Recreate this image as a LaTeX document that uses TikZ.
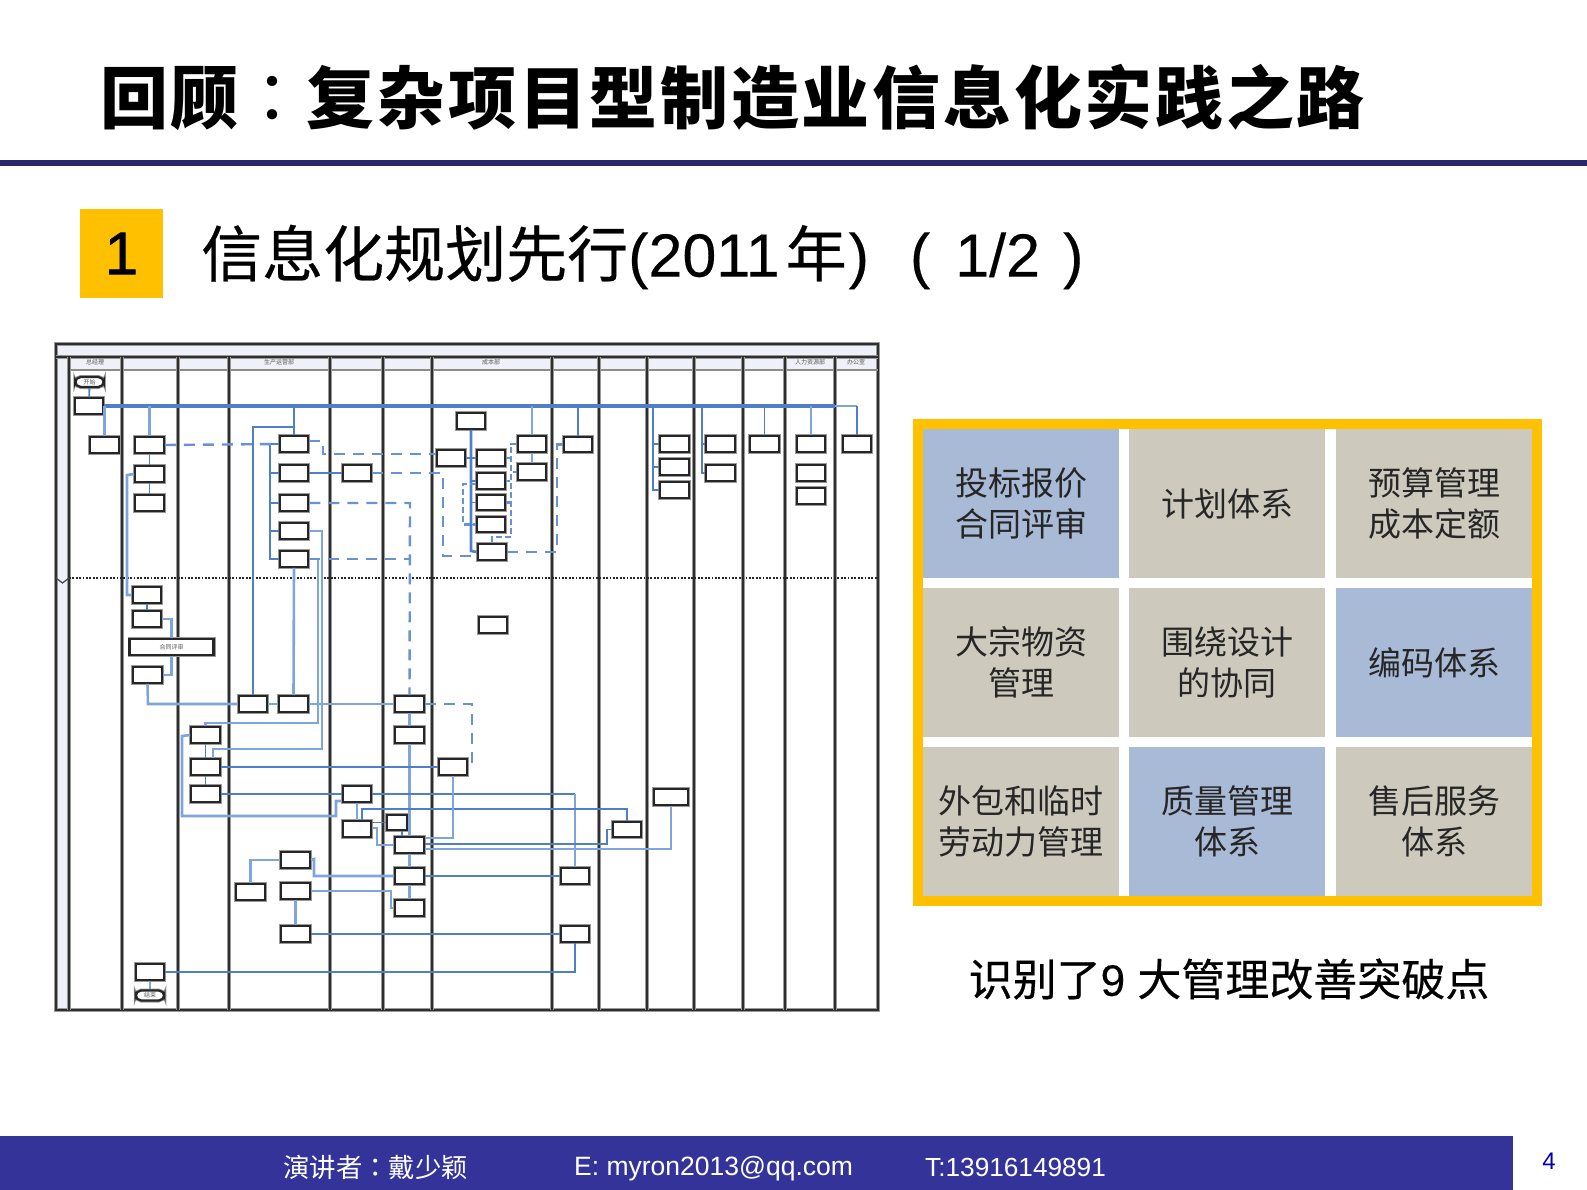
\documentclass[tikz,border=0pt]{standalone}
\usepackage{fontspec}
\setmainfont{Liberation Sans}
\newfontfamily\cjk{Noto Sans CJK SC}
\newfontfamily\cjktc{Noto Sans CJK TC}
\newfontfamily\cjkheavy[FakeBold=0.4]{Noto Sans CJK SC}
\newfontfamily\digitfont[FakeBold=1.2]{Liberation Sans}
\definecolor{navyrule}{HTML}{28286E}
\definecolor{footblue}{HTML}{333399}
\definecolor{gold}{HTML}{FFC000}
\definecolor{cellblue}{HTML}{A9BAD6}
\definecolor{cellgray}{HTML}{CDCABD}
\definecolor{bandgray}{HTML}{EEF1F7}
\definecolor{flowdark}{HTML}{4F7FCB}
\definecolor{flowlight}{HTML}{7FA5DD}
\definecolor{lanedark}{HTML}{2E2E2E}
\tikzset{
  flowbox/.style={draw=black!85, line width=2.2pt, fill=white, minimum width=28.5pt, minimum height=15.5pt, inner sep=0pt, preaction={draw=black!40, line width=4pt}},
  wideflow/.style={flowbox, minimum width=84pt},
  endbox/.style={flowbox, rounded corners=5.5pt, minimum height=10pt},
  lanehead/.style={inner sep=0pt, text=black!65, font=\cjk\fontsize{6}{6}\selectfont},
  mainline/.style={flowdark, line width=3.2pt},
  tailline/.style={flowlight, line width=2.4pt},
  subline/.style={flowlight, line width=2.6pt},
  thinline/.style={flowdark, line width=1.9pt},
  dashline/.style={flowdark!85!white, line width=2.4pt, dash pattern=on 11pt off 8pt},
  lanerule/.style={lanedark, line width=2.2pt, preaction={draw=black!40, line width=3.8pt}},
  gridcell/.style={minimum width=196pt, minimum height=149pt, inner sep=0pt, align=center, text=black!85, font=\cjk\fontsize{33}{40.5}\selectfont},
}
\begin{document}
\begin{tikzpicture}[x=1pt, y=-1pt]
\useasboundingbox (0,0) rectangle (1587,1190);

\node[anchor=west, inner sep=0pt, font=\cjk\bfseries\fontsize{68}{68}\selectfont] (title) at (100,97) {\addfontfeatures{LetterSpace=4}回顾{\cjktc\mdseries ：}复杂项目型制造业信息化实践之路};
\fill[navyrule] (0,160) rectangle (1587,166.5);

\node[fill=gold, minimum width=83pt, minimum height=88pt, inner sep=0pt, font=\digitfont\fontsize{60}{60}\selectfont] (numbox) at (121.5,253.5) {1};
\node[anchor=west, inner sep=0pt, font=\cjkheavy\fontsize{61}{61}\selectfont] (subtitle) at (201,257) {信息化规划先行{\digitfont\addfontfeatures{FakeBold=0.3}\fontsize{61}{61}\selectfont (2011}\hspace{6pt}年\hspace{2pt}{\digitfont\addfontfeatures{FakeBold=0.3}\fontsize{61}{61}\selectfont )\hspace{41pt}(\hspace{25pt}1/2\hspace{23pt})}};

\fill[bandgray] (56,344) rectangle (878,370);
\fill[bandgray] (56,370) rectangle (69,1010);
\draw[lanerule] (56,344) rectangle (878,1010);
\draw[lanerule] (56,357) -- (878,357);
\draw[black!45, line width=1.6pt] (69,370) -- (878,370);
\draw[lanerule] (69,357) -- (69,1010);
\draw[lanerule] (122,357) -- (122,1010);
\draw[lanerule] (178,357) -- (178,1010);
\draw[lanerule] (229,357) -- (229,1010);
\draw[lanerule] (330,357) -- (330,1010);
\draw[lanerule] (383,357) -- (383,1010);
\draw[lanerule] (432,357) -- (432,1010);
\draw[lanerule] (552,357) -- (552,1010);
\draw[lanerule] (599,357) -- (599,1010);
\draw[lanerule] (647,357) -- (647,1010);
\draw[lanerule] (694,357) -- (694,1010);
\draw[lanerule] (743,357) -- (743,1010);
\draw[lanerule] (785,357) -- (785,1010);
\draw[lanerule] (835,357) -- (835,1010);
\draw[black!85, line width=1.3pt, dash pattern=on 1.8pt off 1.6pt] (69,578) -- (878,578);
\draw[black!70, line width=1.3pt] (56,578) -- (62.5,583) -- (69,578);

\node[lanehead] (headmgr) at (95,362) {总经理};
\node[lanehead] (headprod) at (279,362) {生产运营部};
\node[lanehead] (headcost) at (491,362) {成本部};
\node[lanehead] (headhr) at (810,362) {人力资源部};
\node[lanehead] (headoffice) at (856,362) {办公室};

\node[endbox, lanehead] (startpill) at (89.5,382) {开始};
\node[flowbox] (plan) at (89,406) {};
\node[flowbox] (bosa) at (104.5,445) {};
\node[flowbox] (mkta) at (149.5,445) {};
\node[flowbox] (mktb) at (149.5,474) {};
\node[flowbox] (mktc) at (149.5,503) {};
\node[flowbox] (mktd) at (147,595) {};
\node[flowbox] (mkte) at (147,619) {};
\node[wideflow, lanehead] (review) at (171.5,647) {合同评审};
\node[flowbox] (order) at (147.5,675) {};

\node[flowbox] (proa) at (294,444) {};
\node[flowbox] (prob) at (294,473) {};
\node[flowbox] (proc) at (294,503) {};
\node[flowbox] (prod) at (294,531) {};
\node[flowbox] (proe) at (294,559) {};
\node[flowbox] (schedx) at (253,704) {};
\node[flowbox] (schedy) at (293.5,704) {};

\node[flowbox] (mata) at (357,473) {};
\node[flowbox] (matb) at (357,794) {};
\node[flowbox] (matc) at (357,829) {};
\node[flowbox, minimum width=20pt] (matd) at (397,822.5) {};

\node[flowbox] (techa) at (205.5,735) {};
\node[flowbox] (techb) at (205.5,767) {};
\node[flowbox] (techc) at (205.5,794) {};

\node[flowbox] (shopa) at (409.5,704) {};
\node[flowbox] (shopb) at (409.5,735) {};
\node[flowbox] (shopc) at (409.5,845) {};
\node[flowbox] (shopd) at (409.5,876) {};
\node[flowbox] (shope) at (409.5,908) {};
\node[flowbox] (costg) at (453,767) {};

\node[flowbox] (opsa) at (295.5,860) {};
\node[flowbox] (opsb) at (250.5,892) {};
\node[flowbox] (opsc) at (295.5,891) {};
\node[flowbox] (opsd) at (295.5,934) {};
\node[flowbox] (settle) at (150,972) {};
\node[endbox, lanehead] (endpill) at (150,995.5) {结束};

\node[flowbox] (costa) at (451,458) {};
\node[flowbox] (costb) at (471,421) {};
\node[flowbox] (costc) at (491,458) {};
\node[flowbox] (costd) at (491,481) {};
\node[flowbox] (coste) at (491,502.5) {};
\node[flowbox] (costf) at (491,524.5) {};
\node[flowbox] (costh) at (492,552) {};
\node[flowbox] (costi) at (493,625) {};
\node[flowbox] (costj) at (532,444) {};
\node[flowbox] (costk) at (532,472) {};

\node[flowbox] (fina) at (578,444.5) {};
\node[flowbox] (finb) at (575,876) {};
\node[flowbox] (finc) at (575,934) {};
\node[flowbox] (qual) at (627,829.5) {};
\node[flowbox] (equa) at (674.5,444) {};
\node[flowbox] (equb) at (674.5,467) {};
\node[flowbox] (equc) at (674.5,490) {};
\node[flowbox, minimum width=34pt] (equd) at (671,797) {};
\node[flowbox] (laba) at (720.5,444) {};
\node[flowbox] (labb) at (720.5,473) {};
\node[flowbox] (safe) at (764.5,444) {};
\node[flowbox] (hra) at (811,444) {};
\node[flowbox] (hrb) at (811,473) {};
\node[flowbox] (hrc) at (811,496) {};
\node[flowbox] (offi) at (857,444) {};

\coordinate (maintail) at (835,406);
\draw[thinline] (startpill) -- (plan);
\draw[mainline] (plan.east) -- (maintail);
\draw[tailline] (maintail) -- (plan.east -| offi.north);
\draw[subline] (plan.east -| bosa.north) -- (bosa.north);
\draw[subline] (plan.east -| mkta.north) -- (mkta.north);
\draw[thinline] (plan.east -| proa.north) -- (proa.north);
\draw[subline] (plan.east -| costj.north) -- (costj.north);
\draw[thinline] (plan.east -| fina.north) -- (fina.north);
\draw[thinline] (plan.east -| safe.north) -- (safe.north);
\draw[subline] (plan.east -| hra.north) -- (hra.north);
\draw[thinline] (plan.east -| offi.north) -- (offi.north);

\draw[thinline] (mkta) -- (mktb);
\draw[thinline] (mktb) -- (mktc);
\coordinate (loopmkt) at (127,475);
\draw[subline] (mktb.west) -- (loopmkt) |- (mktd.west);
\draw[thinline] (mktd) -- (mkte);
\draw[subline] (mkte.east) -| (review.north);
\draw[subline] (review.south) |- (order.east);
\coordinate (orderrun) at (148,704);
\draw[subline] (order.south) -- (orderrun) -- (schedx.west);
\draw[subline] (schedx) -- (schedy);
\draw[subline] (schedy) -- (shopa);
\coordinate (schedtop) at (253,427);
\draw[thinline] (schedx.north) -- (schedtop) -- (schedtop -| proa.north);

\coordinate (probus) at (270,444);
\draw[mainline, line width=2.6pt] (proa.west) -- (probus) |- (proe.west);
\draw[thinline] (probus |- prob.west) -- (prob.west);
\draw[thinline] (probus |- proc.west) -- (proc.west);
\draw[thinline] (probus |- prod.west) -- (prod.west);
\draw[subline] (proe.south) -- (schedy.north);
\coordinate (rightd) at (322,531);
\coordinate (rightdb) at (322,749);
\coordinate (rightdc) at (213,749);
\draw[subline] (prod.east) -- (rightd) -- (rightdb) -- (rightdc) -- (rightdc |- techb.north);
\coordinate (righte) at (318,559);
\coordinate (righteb) at (318,723);
\coordinate (rightec) at (205.5,723);
\draw[subline] (proe.east) -- (righte) -- (righteb) -- (rightec) -- (techa.north);
\draw[thinline] (prob.east) -- (mata.west);

\draw[dashline] (mkta.east) -- (proa.west);
\coordinate (proadash) at (323,441);
\coordinate (proadashb) at (323,454);
\draw[dashline] (proa.east |- proadash) -- (proadash) -- (proadashb) -- (proadashb -| costa.west);
\coordinate (matdash) at (443,473);
\coordinate (matdashb) at (443,556);
\draw[dashline] (mata.east) -- (matdash) -- (matdashb) -- (matdashb -| costh.west);
\coordinate (procdash) at (410,503);
\draw[dashline] (proc.east) -- (procdash) -- (shopa.north);
\draw[dashline] (proe.east) -- (proe.east -| procdash);
\coordinate (shopdash) at (472,704);
\draw[dashline] (shopa.east) -- (shopdash) |- (costg.east);

\draw[subline] (shopa) -- (shopb);
\draw[subline] (shopb) -- (shopc);
\draw[subline] (shopc) -- (shopd);
\draw[subline] (shopd) -- (shope);

\coordinate (techloop) at (182,736);
\coordinate (techloopb) at (182,816);
\coordinate (techloopc) at (336,816);
\coordinate (techloopd) at (336,801);
\draw[subline] (techa.west) -- (techloop) -- (techloopb) -- (techloopc) -- (techloopd) -- (matb.west |- techloopd);
\draw[thinline] (techa) -- (techb);
\draw[thinline] (techb) -- (techc);
\draw[thinline] (techb.east) -- (costg.west);
\draw[thinline] (techc.east) -- (matb.west);
\coordinate (matrun) at (575,794);
\draw[thinline] (matb.east) -- (matrun);
\draw[subline] (matrun) -- (finb.north);
\draw[subline] (matb) -- (matc);
\coordinate (matup) at (362,820);
\coordinate (matupb) at (362,809);
\draw[thinline] (matup) -- (matupb) -| (qual.north);
\draw[thinline] (matc.east |- matd.west) -- (matd.west);
\coordinate (matdown) at (377,828);
\draw[subline] (matc.east |- matdown) -- (matdown) |- (shopc.west);
\coordinate (matdrop) at (402,831);
\draw[thinline] (matdrop) -- (matdrop |- shopc.north);

\coordinate (shopeasta) at (424.5,838);
\coordinate (shopeastb) at (424.5,844);
\coordinate (shopeastc) at (424.5,849);
\draw[subline] (shopeasta) -| (costg.south);
\coordinate (qualturn) at (607,844);
\draw[thinline] (shopeastb) -- (qualturn) |- (qual.west);
\draw[subline] (shopeastc) -| (equd.south);
\draw[thinline] (shopd.east |- finb.west) -- (finb.west);

\draw[subline] (opsa.west) -| (opsb.north);
\coordinate (opsturn) at (314,859);
\draw[subline] (opsa.east) -- (opsturn) |- (shopd.west);
\draw[subline] (opsc) -- (opsd);
\coordinate (opsturnb) at (391,891);
\draw[subline] (opsc.east) -- (opsturnb) |- (shope.west);
\draw[thinline] (opsd.east) -- (finc.west);
\draw[thinline] (settle.east) -| (finc.south);
\draw[subline] (settle) -- (endpill);

\coordinate (costbus) at (471,551);
\draw[mainline, line width=2.6pt] (costb.south) -- (costbus) -- (costh.west);
\draw[thinline] (costa.east) -- (costc.west);
\draw[thinline] (costbus |- costd.west) -- (costd.west);
\draw[thinline] (costbus |- coste.west) -- (coste.west);
\draw[thinline] (costbus |- costf.west) -- (costf.west);
\coordinate (costleft) at (463,484);
\draw[dashline, dash pattern=on 6pt off 3pt] (costd.west |- costleft) -- (costleft) |- (costf.west);
\draw[subline] (costj) -- (costk);
\coordinate (costright) at (511,444);
\coordinate (costrightb) at (511,537);
\coordinate (costrightc) at (492,537);
\draw[dashline, dash pattern=on 6pt off 3pt] (costj.west) -- (costright) -- (costrightb) -- (costrightc) -- (costh.north);
\draw[dashline, dash pattern=on 4pt off 2pt] (costc.east) -- (costc.east -| costright);
\draw[dashline, dash pattern=on 4pt off 2pt] (costk.west) -- (costk.west -| costright);
\draw[dashline, dash pattern=on 4pt off 2pt] (costd.east) -- (costd.east -| costright);
\draw[dashline, dash pattern=on 4pt off 2pt] (coste.east) -- (coste.east -| costright);
\coordinate (costout) at (557,552);
\draw[dashline] (costh.east) -- (costout) |- (fina.west);

\coordinate (equbus) at (652.7,406);
\draw[thinline, line width=2.2pt] (equbus) |- (equc.west);
\draw[thinline] (equbus |- equa.west) -- (equa.west);
\draw[thinline] (equbus |- equb.west) -- (equb.west);
\coordinate (labbus) at (701.7,406);
\draw[thinline] (labbus) |- (labb.west);
\draw[thinline] (labbus |- laba.west) -- (laba.west);

\fill[gold] (913,419) rectangle (1542,906);
\fill[white] (923,429) rectangle (1532,896);
\node[gridcell, fill=cellblue] (bidding) at (1021,503.5) {投标报价\\合同评审};
\node[gridcell, fill=cellgray] (planning) at (1227.3,503.5) {计划体系};
\node[gridcell, fill=cellgray] (budget) at (1434,503.5) {预算管理\\成本定额};
\node[gridcell, fill=cellgray] (material) at (1021,662.5) {大宗物资\\管理};
\node[gridcell, fill=cellgray] (design) at (1227.3,662.5) {围绕设计\\的协同};
\node[gridcell, fill=cellblue] (coding) at (1434,662.5) {编码体系};
\node[gridcell, fill=cellgray] (outsource) at (1021,821.5) {外包和临时\\劳动力管理};
\node[gridcell, fill=cellblue] (quality) at (1227.3,821.5) {质量管理\\体系};
\node[gridcell, fill=cellgray] (service) at (1434,821.5) {售后服务\\体系};

\node[inner sep=0pt, font=\cjkheavy\fontsize{44}{44}\selectfont] (caption) at (1229,979) {识别了{\digitfont\addfontfeatures{FakeBold=0.3}9 }大管理改善突破点};

\fill[footblue] (0,1135.5) rectangle (1513,1190);
\node[anchor=west, inner sep=0pt, text=white, font=\cjk\fontsize{26.4}{26.4}\selectfont] (speaker) at (283,1167.5) {演讲者{\cjktc ：}戴少颖};
\node[anchor=west, inner sep=0pt, text=white, font=\fontsize{26.5}{26.5}\selectfont] (email) at (574,1169) {E: myron2013@qq.com};
\node[anchor=west, inner sep=0pt, text=white, font=\fontsize{26.2}{26.2}\selectfont] (phone) at (925,1167.5) {T:13916149891};
\node[inner sep=0pt, text=blue!70!black, font=\fontsize{24}{24}\selectfont] (pagenum) at (1549,1161) {4};
\end{tikzpicture}
\end{document}
